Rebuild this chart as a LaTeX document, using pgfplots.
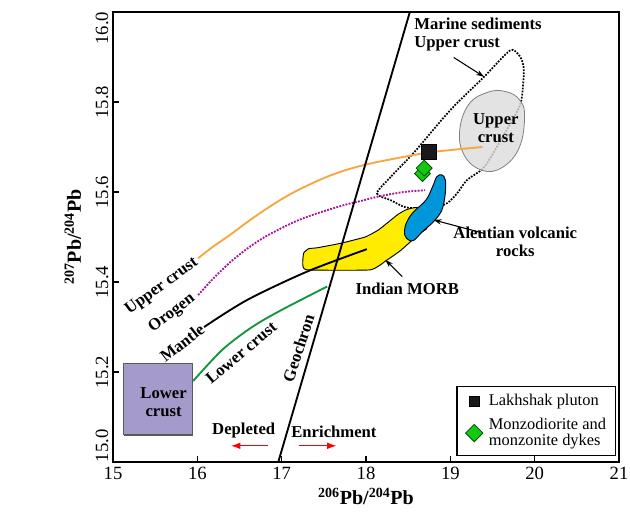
\documentclass[border=0pt]{standalone}
\usepackage{pgfplots}
\pgfplotsset{compat=1.18}
\usepackage{fontspec}
\setmainfont{Liberation Serif}
\usetikzlibrary{arrows.meta}
\definecolor{orangeL}{RGB}{247,166,64}
\definecolor{magL}{RGB}{170,20,150}
\definecolor{greenL}{RGB}{20,150,60}
\definecolor{yelL}{RGB}{255,236,0}
\definecolor{blueL}{RGB}{0,150,218}
\definecolor{lavL}{RGB}{165,155,203}
\definecolor{grayE}{RGB}{220,220,220}
\definecolor{diaG}{RGB}{20,200,20}
\begin{document}
\begin{tikzpicture}
\begin{axis}[
  scale only axis,
  width=379.5pt, height=337.5pt,
  xmin=15, xmax=21, ymin=15, ymax=16,
  xtick={15,16,17,18,19,20,21},
  ytick={15,15.2,15.4,15.6,15.8,16},
  yticklabels={\rlap{15.0},15.2,15.4,15.6,15.8,\llap{16.0}},
  tick pos=left,
  tick align=inside,
  major tick length=4.5pt,
  tick style={black, line width=1pt},
  axis line style={line width=1.6pt},
  /pgf/number format/assume math mode=true,
  tick label style={font=\fontsize{14}{16}\selectfont},
  yticklabel style={rotate=90, anchor=south},
  xlabel={\textbf{\textsuperscript{206}Pb/\textsuperscript{204}Pb}},
  ylabel={\textbf{\textsuperscript{207}Pb/\textsuperscript{204}Pb}},
  xlabel style={font=\fontsize{15}{17}\selectfont},
  ylabel style={font=\fontsize{15}{17}\selectfont},
  ylabel shift=4pt,
  legend style={at={(0.994,0.013)}, anchor=south east, draw=black, line width=1pt,
    font=\fontsize{12.3}{14}\selectfont, row sep=4pt, column sep=1pt, inner xsep=5pt, inner ysep=4pt},
  legend cell align=left,
]
\coordinate (SW) at (rel axis cs:0,0);
\coordinate (NE) at (rel axis cs:1,1);
% marine sediments envelope
\addplot[forget plot, black, line width=1.3pt, densely dotted, smooth cycle, tension=0.5] coordinates {
(18.13,15.597) (18.30,15.635) (18.57,15.688) (19.0,15.782) (19.4,15.856) (19.65,15.905) (19.74,15.916) (19.83,15.900) (19.87,15.875) (19.86,15.834) (19.82,15.79) (19.60,15.716) (19.40,15.655) (19.20,15.627) (19.08,15.597) (18.96,15.575) (18.80,15.565) (18.57,15.564) (18.45,15.567) (18.29,15.582)};
% upper crust ellipse
\addplot[forget plot, draw=gray, line width=0.6pt, fill=grayE, fill opacity=0.8, smooth cycle, tension=0.7] coordinates {
(19.66,15.823) (19.82,15.805) (19.88,15.770) (19.82,15.700) (19.62,15.655) (19.38,15.648) (19.17,15.680) (19.11,15.735) (19.22,15.795) (19.45,15.822)};
% lower crust box
\addplot[forget plot, draw=gray!70!black, line width=0.8pt, fill=lavL] coordinates {
(15.13,15.06) (15.94,15.06) (15.94,15.218) (15.13,15.218) (15.13,15.06)};
% Indian MORB
\addplot[forget plot, draw=black, line width=0.7pt, fill=yelL, smooth cycle, tension=0.25] coordinates {
(17.26,15.464) (17.32,15.474) (17.42,15.476) (17.70,15.486) (17.99,15.50) (18.15,15.516) (18.37,15.549) (18.47,15.56) (18.61,15.565) (18.72,15.52) (18.65,15.51) (18.41,15.47) (18.25,15.449) (18.05,15.427) (17.30,15.427) (17.25,15.44)};
% curves
\addplot[forget plot, orangeL, line width=1.4pt, smooth, tension=0.4] coordinates {
(16.01,15.453) (16.19,15.479) (16.39,15.505) (16.59,15.533) (16.79,15.559) (16.99,15.583) (17.18,15.603) (17.38,15.621) (17.58,15.637) (17.78,15.650) (17.98,15.660) (18.17,15.668) (18.75,15.688) (19.38,15.70)};
\addplot[forget plot, magL, line width=1.4pt, densely dotted, smooth, tension=0.4] coordinates {
(16.01,15.371) (16.19,15.408) (16.39,15.444) (16.59,15.474) (16.79,15.499) (16.99,15.519) (17.18,15.536) (17.38,15.550) (17.58,15.562) (17.78,15.573) (17.98,15.582) (18.17,15.591) (18.45,15.600) (18.70,15.604)};
\addplot[forget plot, black, line width=1.4pt, smooth] coordinates {
(16.08,15.30) (16.59,15.36) (17.30,15.423) (18.01,15.473)};
\addplot[forget plot, greenL, line width=1.4pt, smooth] coordinates {
(15.95,15.18) (16.3,15.25) (16.65,15.30) (17.0,15.338) (17.54,15.39)};
% Aleutian
\addplot[forget plot, draw=black, line width=0.7pt, fill=blueL, smooth cycle, tension=0.6] coordinates {
(18.90,15.638) (18.94,15.627) (18.94,15.597) (18.90,15.56) (18.80,15.534) (18.67,15.512) (18.57,15.493) (18.51,15.493) (18.46,15.504) (18.47,15.527) (18.55,15.553) (18.71,15.582) (18.79,15.612) (18.84,15.634)};
% geochron
\addplot[forget plot, black, line width=1.4pt] coordinates {(16.96,15.0) (18.52,16.0)};
% samples
\addplot[only marks, mark=square*, mark size=5.6pt, mark options={fill=black!90, draw=black},
  legend image code/.code={\path[draw=none, fill=none] (-3pt,0pt) -- (13pt,0pt); \draw[fill=black!90, draw=black] (5pt-3.75pt,-3.75pt) rectangle (5pt+3.75pt,3.75pt);}] coordinates {(18.745,15.690)};
\addlegendentry{\fontsize{12.3}{14}\selectfont Lakhshak pluton}
\addplot[only marks, mark=square*, mark size=4.2pt, mark options={rotate=45, fill=diaG, draw=black!70!green, line width=0.6pt},
  legend image code/.code={\path[draw=none, fill=none] (-3pt,0pt) -- (13pt,0pt); \draw[fill=diaG, draw=black!70!green, line width=0.6pt] (5pt,-6.5pt)--(5pt+6.5pt,0pt)--(5pt,6.5pt)--(5pt-6.5pt,0pt)--cycle;}] coordinates {(18.67,15.641) (18.69,15.653)};
\addlegendentry{\fontsize{12.3}{14}\selectfont\shortstack[l]{Monzodiorite and\\monzonite dykes}}
% arrows
\draw[-{Stealth[length=6pt,width=4pt]}, line width=0.8pt] (axis cs:19.04,15.899) -- (axis cs:19.40,15.856);
\draw[-{Stealth[length=6pt,width=4pt]}, line width=0.8pt] (axis cs:19.40,15.508) -- (axis cs:18.80,15.538);
\draw[-{Stealth[length=6pt,width=4pt]}, line width=0.8pt] (axis cs:18.43,15.412) -- (axis cs:18.23,15.449);
\draw[red, -{Latex[length=7pt,width=5pt]}, line width=0.8pt] (axis cs:16.84,15.036) -- (axis cs:16.40,15.036);
\draw[red, -{Latex[length=7pt,width=5pt]}, line width=0.8pt] (axis cs:17.21,15.036) -- (axis cs:17.65,15.036);
% labels
\begin{scope}[every node/.style={font=\bfseries\fontsize{12.5}{13.5}\selectfont, inner sep=0pt}]
\node[anchor=west, align=left] at (axis cs:18.57,15.95) {Marine sediments\\Upper crust};
\node[align=center] at (axis cs:19.54,15.742) {Upper\\crust};
\node[align=center] at (axis cs:19.77,15.49) {Aleutian volcanic\\rocks};
\node at (axis cs:18.49,15.386) {Indian MORB};
\node[rotate=36] at (axis cs:15.58,15.39) {Upper crust};
\node[rotate=37] at (axis cs:15.70,15.33) {Orogen};
\node[rotate=38] at (axis cs:15.82,15.265) {Mantle};
\node[rotate=40] at (axis cs:16.52,15.243) {Lower crust};
\node[rotate=72] at (axis cs:17.20,15.253) {Geochron};
\node[align=center] at (axis cs:15.60,15.134) {Lower\\crust};
\node at (axis cs:16.55,15.07) {Depleted};
\node at (axis cs:17.62,15.067) {Enrichment};
\end{scope}
\end{axis}
\pgfresetboundingbox
\path ([shift={(-84.75pt,-36.75pt)}]SW) rectangle ([shift={(8.25pt,9pt)}]NE);
\end{tikzpicture}
\end{document}
